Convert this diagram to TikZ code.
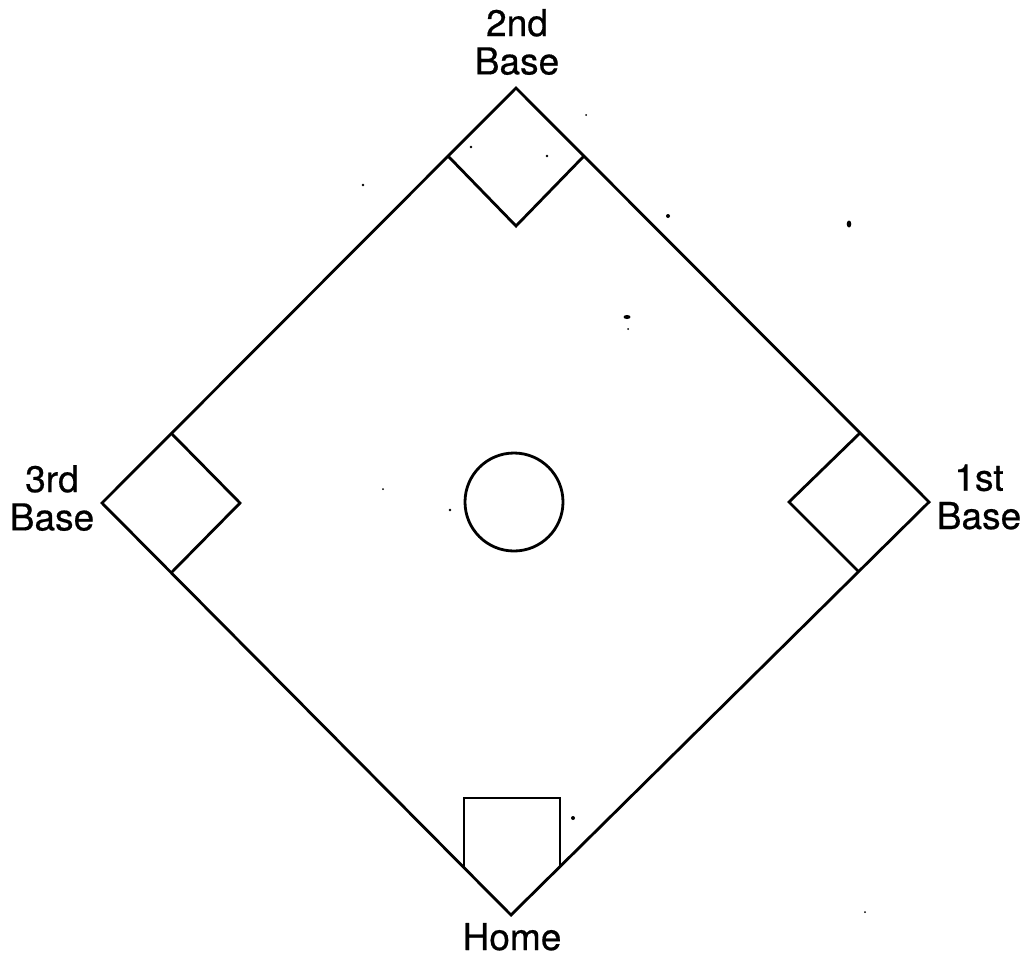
\documentclass[tikz,border=0pt]{standalone}
\usepackage{fontspec}
\setmainfont[FakeBold=0.5]{TeX Gyre Heros}
\tikzset{
 line/.style={draw=black,line width=2.1pt,line join=miter},
 lab/.style={font=\fontsize{27.8}{28.7}\selectfont,align=center,inner sep=0pt,text=black},
 homelab/.style={font=\fontsize{27.8}{28.7}\selectfont,inner sep=0pt,text=black,anchor=base},
 speck/.style={fill=black,draw=none}
}
\begin{document}
\begin{tikzpicture}[x=0.75pt,y=-0.75pt]
\useasboundingbox (0,0) rectangle (1023,954);
\coordinate (N) at (516,88);
\coordinate (E) at (929,502);
\coordinate (W) at (102,503);
\coordinate (S) at (511,915);
\coordinate (nl) at (448,156);
\coordinate (nr) at (584,156);
\coordinate (nb) at (516,226);
\coordinate (el) at (789,502);
\coordinate (et) at (860,433);
\coordinate (eb) at (859,572);
\coordinate (wr) at (240,503);
\coordinate (wt) at (172,434);
\coordinate (wb) at (171,573);
\coordinate (hl) at (464,868);
\coordinate (hr) at (560,866);
\coordinate (htl) at (464,798);
\coordinate (htr) at (560,798);
\draw[line] (N) -- (E) -- (S) -- (W) -- cycle;
\draw[line] (nl) -- (nb) -- (nr);
\draw[line] (et) -- (el) -- (eb);
\draw[line] (wt) -- (wr) -- (wb);
\draw[line] (hl) -- (htl) -- (htr) -- (hr);
\node[line,circle,minimum size=73.5pt,inner sep=0pt] (mound) at (514,502) {};
\node[lab] (second) at (517,42) {2nd\\Base};
\node[lab] (third) at (52,498) {3rd\\Base};
\node[lab] (first) at (979,497) {1st\\Base};
\node[homelab] (home) at (512,950) {Home};
\foreach \x/\y/\r in {363/185/1.4,471/147/1.4,547/156/1.4,586/115/1,668/216/2,628/329/1,383/489/1,450/510/1.3,573/818/2,865/912/1}
  \fill[speck] (\x,\y) circle[radius=\r];
\fill[speck] (849,224) ellipse [x radius=2.3,y radius=3.5];
\fill[speck] (627,317) ellipse [x radius=3.5,y radius=2];
\end{tikzpicture}
\end{document}
